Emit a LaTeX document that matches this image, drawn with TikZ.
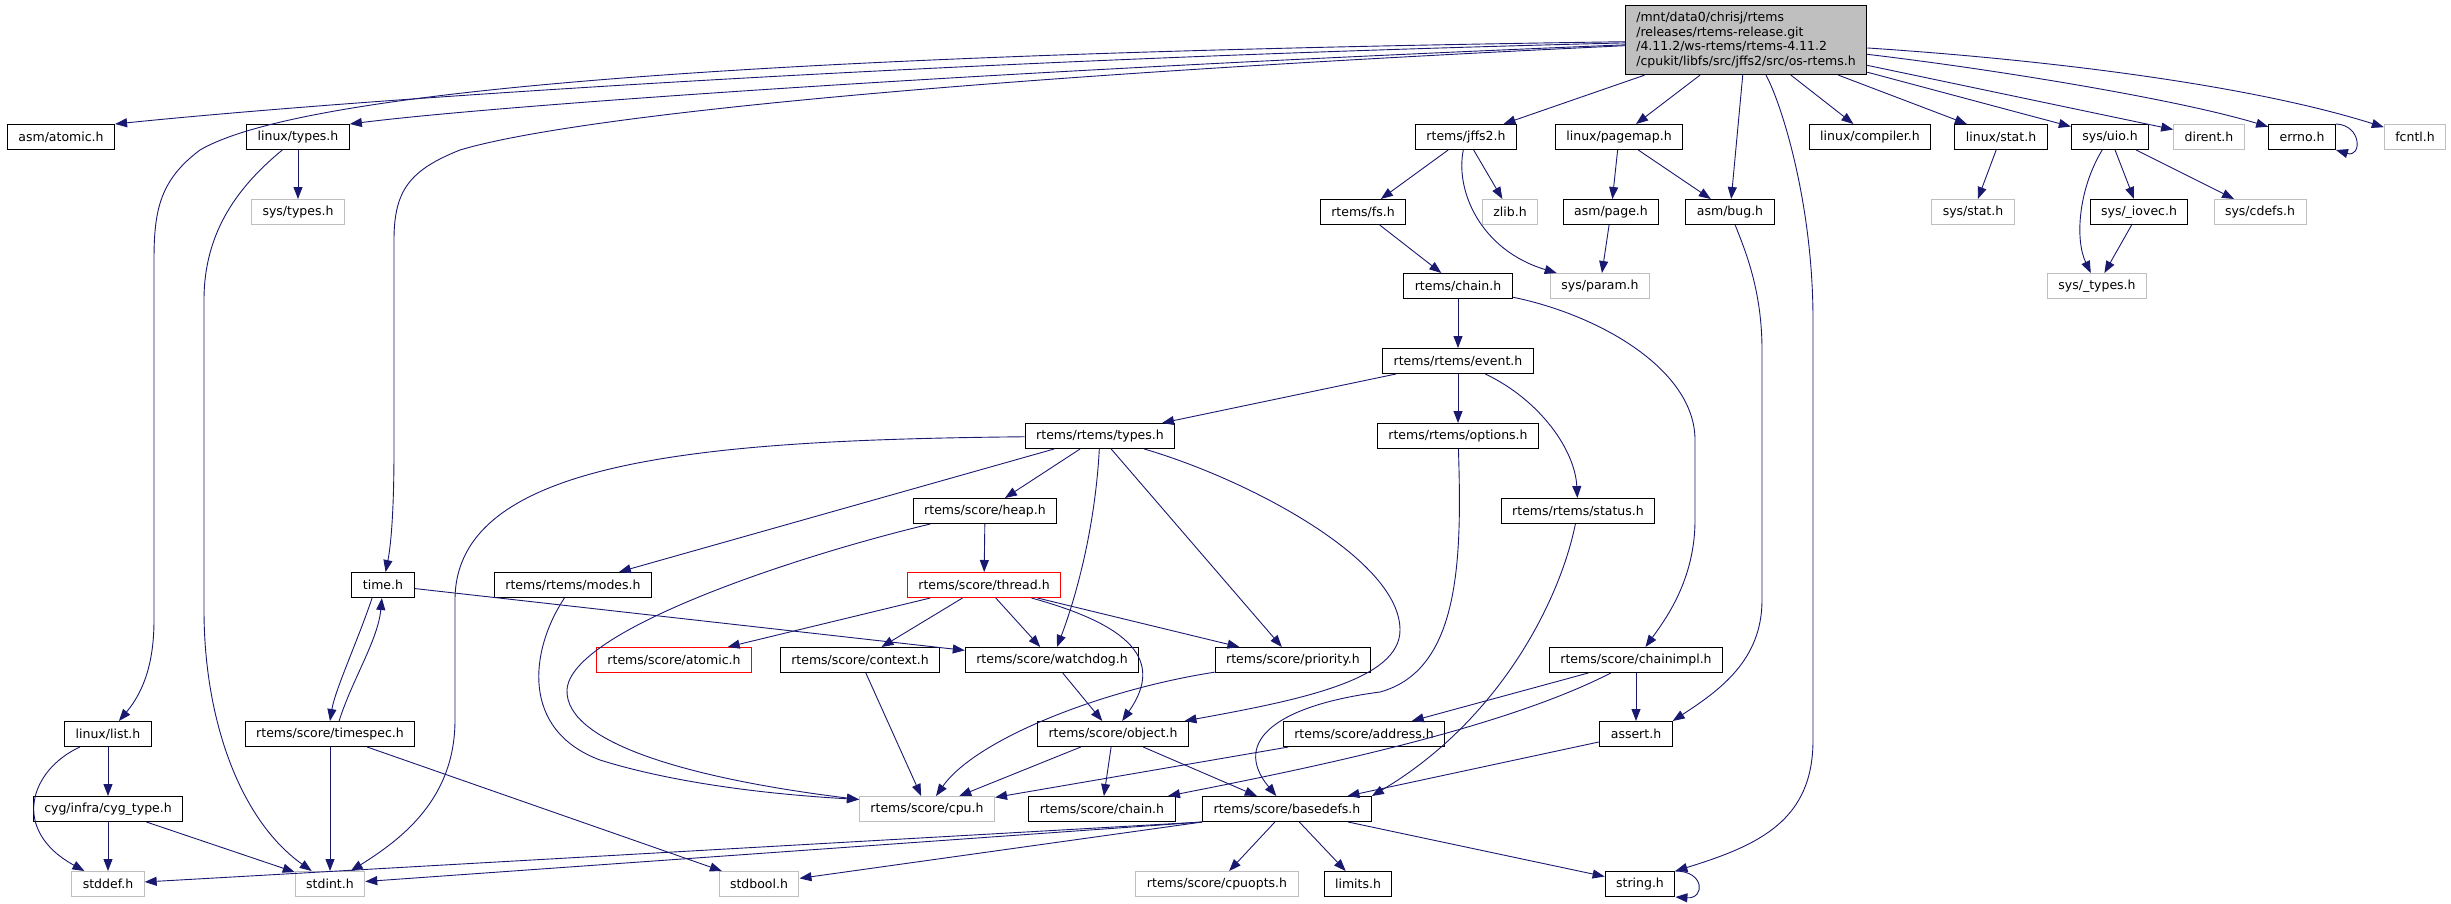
\documentclass[tikz,border=0pt]{standalone}
\usepackage{fontspec}
\setmainfont{DejaVu Sans}
\usetikzlibrary{arrows.meta}
\definecolor{edgeblue}{HTML}{191970}
\definecolor{boxgray}{HTML}{BFBFBF}
\tikzset{
  file/.style={draw=black, fill=white, line width=1pt, minimum height=25pt,
    inner xsep=11pt, inner ysep=2pt, font=\fontsize{12.5}{14.4}\selectfont},
  extfile/.style={file, draw=boxgray},
  cutfile/.style={file, draw=red},
  topfile/.style={file, fill=boxgray, align=left, inner ysep=7pt},
  incl/.style={edgeblue, line width=0.9pt, -{Triangle[length=12pt,width=9pt]}}
}
\begin{document}
\begin{tikzpicture}[x=1pt,y=-1pt]
      \useasboundingbox (0,0) rectangle (2451,903);
      \draw
        (1746,40) node[topfile] (main){/mnt/data0/chrisj/rtems\\/releases/rtems-release.git\\/4.11.2/ws-rtems/rtems-4.11.2\\/cpukit/libfs/src/jffs2/src/os-rtems.h}
        (61,137) node[file] (asmatomic){asm/atomic.h}
        (298,137) node[file] (linuxtypes){linux/types.h}
        (1466,137) node[file] (jffs2){rtems/jffs2.h}
        (1619,137) node[file] (pagemap){linux/pagemap.h}
        (1870,137) node[file] (compiler){linux/compiler.h}
        (2001,137) node[file] (linuxstat){linux/stat.h}
        (2110,137) node[file] (sysuio){sys/uio.h}
        (2209,137) node[extfile] (dirent){dirent.h}
        (2302,137) node[file] (errno){errno.h}
        (2415,137) node[extfile] (fcntl){fcntl.h}
        (298,212) node[extfile] (systypes){sys/types.h}
        (1363,212) node[file] (rtemsfs){rtems/fs.h}
        (1510,212) node[extfile] (zlib){zlib.h}
        (1611,212) node[file] (asmpage){asm/page.h}
        (1730,212) node[file] (asmbug){asm/bug.h}
        (1973,212) node[extfile] (sysstat){sys/stat.h}
        (2139,212) node[file] (iovec){sys/\_iovec.h}
        (2260,212) node[extfile] (cdefs){sys/cdefs.h}
        (1458,286) node[file] (rtemschain){rtems/chain.h}
        (1600,286) node[extfile] (sysparam){sys/param.h}
        (2097,286) node[extfile] (sysutypes){sys/\_types.h}
        (1458,361) node[file] (event){rtems/rtems/event.h}
        (1100,436) node[file] (rtypes){rtems/rtems/types.h}
        (1458,436) node[file] (options){rtems/rtems/options.h}
        (985,511) node[file] (heap){rtems/score/heap.h}
        (1578,511) node[file] (status){rtems/rtems/status.h}
        (383,585) node[file] (time){time.h}
        (573,585) node[file] (modes){rtems/rtems/modes.h}
        (984,585) node[cutfile] (thread){rtems/score/thread.h}
        (674,660) node[cutfile] (atomic){rtems/score/atomic.h}
        (860,660) node[file] (context){rtems/score/context.h}
        (1052,660) node[file] (watchdog){rtems/score/watchdog.h}
        (1293,660) node[file] (priority){rtems/score/priority.h}
        (1636,660) node[file] (chainimpl){rtems/score/chainimpl.h}
        (108,734) node[file] (linuxlist){linux/list.h}
        (330,734) node[file] (timespec){rtems/score/timespec.h}
        (1113,734) node[file] (object){rtems/score/object.h}
        (1364,734) node[file] (address){rtems/score/address.h}
        (1636,734) node[file] (assert){assert.h}
        (108,809) node[file] (cygtype){cyg/infra/cyg\_type.h}
        (927,809) node[extfile] (cpu){rtems/score/cpu.h}
        (1102,809) node[file] (schain){rtems/score/chain.h}
        (1287,809) node[file] (basedefs){rtems/score/basedefs.h}
        (108,884) node[extfile] (stddef){stddef.h}
        (330,884) node[extfile] (stdint){stdint.h}
        (759,884) node[extfile] (stdbool){stdbool.h}
        (1217,884) node[extfile] (cpuopts){rtems/score/cpuopts.h}
        (1358,884) node[file] (limits){limits.h}
        (1640,884) node[file] (string){string.h};
      \begin{scope}[incl]
        \draw (main) .. controls (1000,58) and (400,95) .. (asmatomic.north east);
        \draw (main) .. controls (1000,70) and (500,105) .. (linuxtypes.north east);
        \draw (main) .. controls (900,52) and (320,80) .. (200,150) .. controls (160,180) and (154,210) .. (154,260) -- (154,620) .. controls (154,660) and (145,690) .. (linuxlist);
        \draw (main) .. controls (900,80) and (560,120) .. (460,150) .. controls (410,170) and (394,190) .. (394,240) -- (394,450) .. controls (394,520) and (390,550) .. (time);
        \draw (main) to (jffs2);
        \draw (main) to (pagemap);
        \draw (main) to (asmbug);
        \draw (main) .. controls (1780,100) and (1813,200) .. (1813,320) -- (1813,740) .. controls (1813,820) and (1760,845) .. (string.north east);
        \draw (main) to (compiler);
        \draw (main) to (linuxstat);
        \draw (main) to (sysuio);
        \draw (main) to (dirent);
        \draw (main) .. controls (2000,70) and (2180,100) .. (errno);
        \draw (main) .. controls (2050,60) and (2250,85) .. (fcntl);
        \draw (errno.north east) .. controls (2362,125) and (2362,158) .. (errno.south east);
        \draw (linuxtypes) to (systypes);
        \draw (linuxtypes) .. controls (240,185) and (204,230) .. (204,300) -- (204,610) .. controls (204,720) and (240,820) .. (stdint);
        \draw (linuxlist) .. controls (30,770) and (10,830) .. (stddef);
        \draw (linuxlist) to (cygtype);
        \draw (cygtype) to (stddef);
        \draw (cygtype) to (stdint);
        \draw (time.-130) .. controls (358,640) and (335,690) .. (timespec.north);
        \draw (timespec.55) .. controls (352,680) and (378,640) .. (time.-95);
        \draw (time) to (watchdog);
        \draw (timespec) to (stdint);
        \draw (timespec) to (stdbool);
        \draw (jffs2) to (rtemsfs);
        \draw (jffs2) to (zlib);
        \draw (jffs2) .. controls (1455,190) and (1480,250) .. (sysparam);
        \draw (pagemap) to (asmpage);
        \draw (pagemap) to (asmbug);
        \draw (asmpage) to (sysparam);
        \draw (asmbug) .. controls (1745,250) and (1762,290) .. (1762,350) -- (1762,600) .. controls (1762,660) and (1720,690) .. (assert.north east);
        \draw (linuxstat) to (sysstat);
        \draw (sysuio) .. controls (2078,190) and (2075,240) .. (sysutypes);
        \draw (sysuio) to (iovec);
        \draw (sysuio) to (cdefs);
        \draw (iovec) to (sysutypes);
        \draw (rtemsfs) to (rtemschain);
        \draw (rtemschain) to (event);
        \draw (rtemschain) .. controls (1600,315) and (1695,370) .. (1695,440) -- (1695,520) .. controls (1695,580) and (1665,620) .. (chainimpl);
        \draw (event) to (rtypes);
        \draw (event) to (options);
        \draw (event) .. controls (1540,400) and (1575,450) .. (status);
        \draw (rtypes) .. controls (700,440) and (455,460) .. (455,600) -- (455,720) .. controls (455,800) and (400,840) .. (stdint);
        \draw (rtypes) to (modes);
        \draw (rtypes) to (heap);
        \draw (rtypes) .. controls (1095,530) and (1075,600) .. (watchdog);
        \draw (rtypes) to (priority);
        \draw (rtypes) .. controls (1250,480) and (1400,560) .. (1400,630) .. controls (1400,680) and (1300,700) .. (object);
        \draw (options) .. controls (1462,560) and (1460,670) .. (1380,692) .. controls (1280,705) and (1230,740) .. (basedefs);
        \draw (status) .. controls (1560,600) and (1500,720) .. (basedefs.north east);
        \draw (heap) to (thread);
        \draw (heap) .. controls (800,555) and (570,630) .. (567,690) .. controls (565,745) and (700,780) .. (cpu.172);
        \draw (modes) .. controls (530,650) and (520,730) .. (600,760) .. controls (680,785) and (780,795) .. (cpu.172);
        \draw (thread) to (atomic);
        \draw (thread) to (context);
        \draw (thread) to (watchdog);
        \draw (thread) .. controls (1130,625) and (1165,660) .. (object);
        \draw (thread) to (priority);
        \draw (context) to (cpu);
        \draw (watchdog) to (object);
        \draw (priority) .. controls (1100,690) and (975,740) .. (cpu);
        \draw (object) to (cpu);
        \draw (object) to (schain);
        \draw (object) to (basedefs);
        \draw (address) to (cpu);
        \draw (chainimpl) to (address);
        \draw (chainimpl) .. controls (1500,730) and (1300,770) .. (schain);
        \draw (chainimpl) to (assert);
        \draw (assert) to (basedefs);
        \draw (basedefs.south west) to (stddef);
        \draw (basedefs.south west) to (stdint);
        \draw (basedefs.south west) to (stdbool);
        \draw (basedefs) to (cpuopts);
        \draw (basedefs) to (limits);
        \draw (basedefs) to (string);
        \draw (string.north east) .. controls (1705,871) and (1705,899) .. (string.south east);
      \end{scope}
    \end{tikzpicture}
\end{document}
